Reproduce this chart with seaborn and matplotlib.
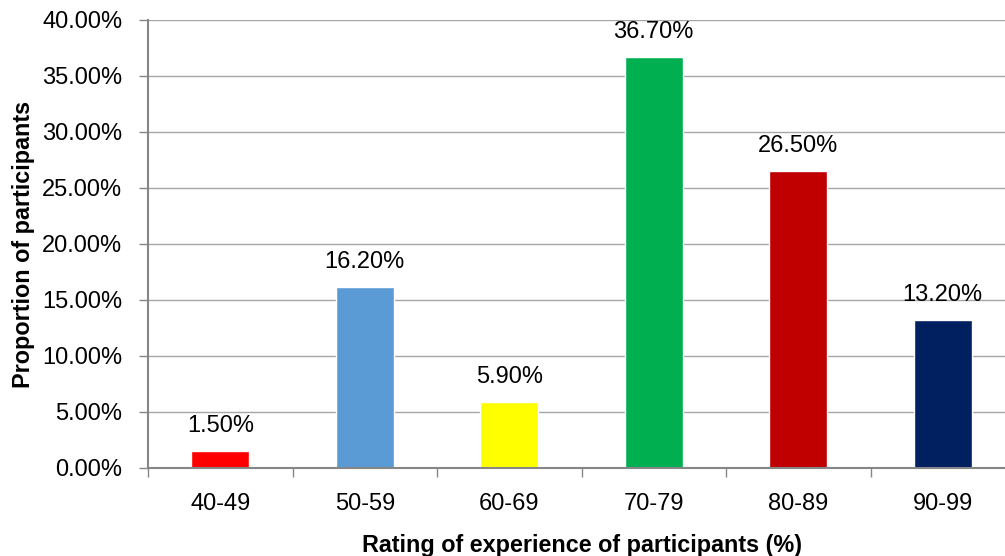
import matplotlib
matplotlib.use("Agg")
import matplotlib.pyplot as plt
import seaborn as sns
import pandas as pd
from matplotlib.ticker import MultipleLocator, FuncFormatter, FixedLocator

categories = ["40-49", "50-59", "60-69", "70-79", "80-89", "90-99"]
proportions = [1.5, 16.2, 5.9, 36.7, 26.5, 13.2]
bar_colors = ["#FF0000", "#5B9BD5", "#FFFF00", "#00B050", "#C00000", "#002060"]
x_title = "Rating of experience of participants (%)"
y_title = "Proportion of participants"

df = pd.DataFrame({"rating": categories, "share": proportions})

sns.set_theme(style="white")
plt.rcParams["font.family"] = ["Liberation Sans", "DejaVu Sans"]

fig = plt.figure(figsize=(10.05, 5.56), dpi=100)
W, H = 1005, 556
ax = fig.add_axes([148 / W, (H - 468) / H, (1015 - 148) / W, (468 - 20) / H])

sns.barplot(data=df, x="rating", y="share", hue="rating", palette=bar_colors,
            order=categories, hue_order=categories, width=0.4, legend=False,
            saturation=1, ax=ax, zorder=3)

ax.set_xlim(-0.5, len(categories) - 0.5)
ax.set_ylim(0, 40)
ax.yaxis.set_major_locator(MultipleLocator(5))
ax.yaxis.set_major_formatter(FuncFormatter(lambda v, _: f"{v:.2f}%"))

# horizontal gridlines
ax.grid(axis="y", color="#A6A6A6", linewidth=1.0, zorder=0)
ax.grid(axis="x", visible=False)
ax.set_axisbelow(True)

for side in ["top", "right"]:
    ax.spines[side].set_visible(False)
for side in ["left", "bottom"]:
    ax.spines[side].set_color("#868686")
    ax.spines[side].set_linewidth(1.5)
    ax.spines[side].set_zorder(4)

ax.tick_params(axis="y", which="major", left=True, length=6.5, width=1.0,
               color="#868686", labelsize=17, pad=12, labelcolor="black")
# category labels without marks; marks sit between categories
ax.tick_params(axis="x", which="major", bottom=False, length=0, labelsize=17,
               pad=18, labelcolor="black")
ax.xaxis.set_minor_locator(FixedLocator([i - 0.5 for i in range(len(categories) + 1)]))
ax.tick_params(axis="x", which="minor", bottom=True, length=6.5, width=1.0,
               color="#868686")

ax.set_xlabel(x_title, fontsize=16.8, fontweight="bold", labelpad=13.5, color="black")
ax.set_ylabel(y_title, fontsize=16.8, fontweight="bold", labelpad=5, color="black")

for i, v in enumerate(proportions):
    ax.annotate(f"{v:.2f}%", (i, v), xytext=(0, 10), textcoords="offset points",
                ha="center", va="bottom", fontsize=17, color="black", zorder=5)

fig.savefig("out.png", dpi=100)
